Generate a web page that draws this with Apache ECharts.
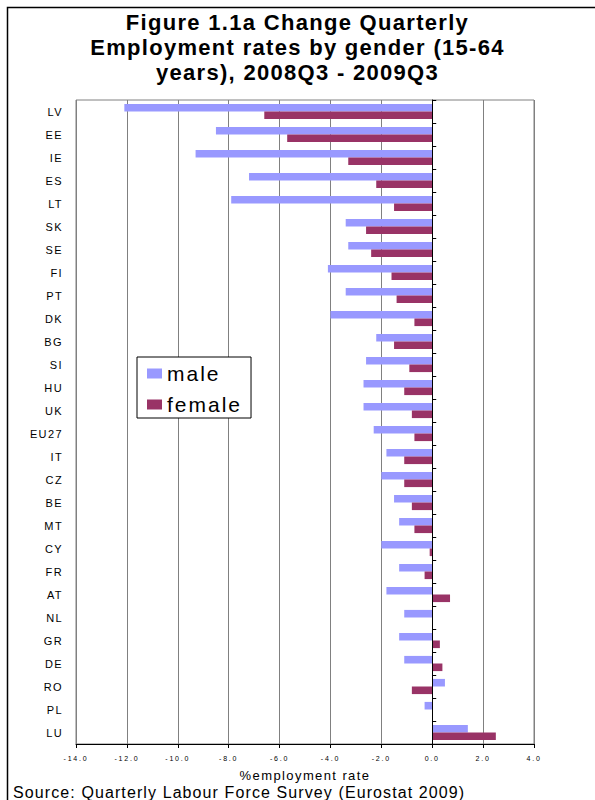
<!DOCTYPE html>
<html>
<head>
<meta charset="utf-8">
<script src="https://cdn.jsdelivr.net/npm/echarts@6/dist/echarts.min.js"></script>
<style>
html,body{margin:0;padding:0;background:#fff;}
#chart{width:595px;height:800px;}
</style>
</head>
<body>
<div id="chart"></div>
<script>
const categories = ["LV","EE","IE","ES","LT","SK","SE","FI","PT","DK","BG","SI","HU","UK","EU27","IT","CZ","BE","MT","CY","FR","AT","NL","GR","DE","RO","PL","LU"];
const male   = [-12.1,-8.5,-9.3,-7.2,-7.9,-3.4,-3.3,-4.1,-3.4,-4.0,-2.2,-2.6,-2.7,-2.7,-2.3,-1.8,-2.0,-1.5,-1.3,-2.0,-1.3,-1.8,-1.1,-1.3,-1.1,0.5,-0.3,1.4];
const female = [-6.6,-5.7,-3.3,-2.2,-1.5,-2.6,-2.4,-1.6,-1.4,-0.7,-1.5,-0.9,-1.1,-0.8,-0.7,-1.1,-1.1,-0.8,-0.7,-0.1,-0.3,0.7,0,0.3,0.4,-0.8,0,2.5];
const xMin = -14, xMax = 4, xStep = 2;
const titleText = "Figure 1.1a Change Quarterly\nEmployment rates by gender (15-64\nyears), 2008Q3 - 2009Q3";
const axisName = "%employment rate";
const sourceText = "Source: Quarterly Labour Force Survey (Eurostat 2009)";

const FONT = 'Liberation Sans, Arial, sans-serif';
// letter spacing per font size (px), applied to the rendered SVG text
const SPACING = {22:1.3, 21:2.0, 16:1.1, 13:1.4, 11:1.4, 7:1.8};

const chart = echarts.init(document.getElementById('chart'), null, {renderer:'svg'});
chart.setOption({
  backgroundColor:'#fff',
  animation:false,
  title:{
    text:titleText,
    left:'center',
    top:5,
    textStyle:{fontFamily:FONT,fontSize:22,fontWeight:'bold',color:'#000',lineHeight:25}
  },
  legend:{
    data:['male','female'],
    orient:'vertical',
    left:137, top:357,
    padding:[6,21,3,10],
    itemGap:10,
    itemWidth:15, itemHeight:10,
    icon:'rect',
    backgroundColor:'#fff',
    borderColor:'#000', borderWidth:1,
    textStyle:{fontFamily:FONT,fontSize:21,color:'#000'}
  },
  grid:{left:76,right:61,top:100,bottom:56,show:true,borderColor:'#808080',borderWidth:1,backgroundColor:'transparent'},
  xAxis:{
    type:'value', min:xMin, max:xMax, interval:xStep,
    name:axisName, nameLocation:'middle', nameGap:25,
    nameTextStyle:{fontFamily:FONT,fontSize:13,color:'#000'},
    axisLine:{show:true,onZero:false,lineStyle:{color:'#000',width:1}},
    axisTick:{show:true,length:4,lineStyle:{color:'#000'}},
    axisLabel:{fontFamily:FONT,fontSize:7,color:'#000',margin:11,formatter:v=>v.toFixed(1)},
    splitLine:{show:true,lineStyle:{color:'#808080',width:1}}
  },
  yAxis:[{
    type:'category', data:categories, inverse:true,
    axisLine:{show:false,onZero:false}, axisTick:{show:false},
    axisLabel:{fontFamily:FONT,fontSize:11,color:'#000',margin:13,align:'right'}
  },{
    type:'category', data:categories, inverse:true, position:'left', z:10,
    axisLine:{show:true,onZero:true,lineStyle:{color:'#000',width:1}},
    axisTick:{show:true,inside:true,length:4,lineStyle:{color:'#000',width:1}},
    axisLabel:{show:false}
  }],
  series:[
    {name:'male',type:'bar',data:male,yAxisIndex:0,barGap:'0%',barCategoryGap:'34%',itemStyle:{color:'#9999FF'}},
    {name:'female',type:'bar',data:female,yAxisIndex:0,barGap:'0%',barCategoryGap:'34%',itemStyle:{color:'#993366'}}
  ],
  graphic:[
    {type:'rect',shape:{x:7.5,y:7.5,width:700,height:900},style:{fill:'none',stroke:'#000',lineWidth:1.5},silent:true},
    {type:'text',left:13,top:784,style:{text:sourceText,fontFamily:FONT,fontSize:16,fill:'#000'}}
  ]
});

function applySpacing(){
  document.querySelectorAll('#chart svg text').forEach(t=>{
    const fs = Math.round(parseFloat(getComputedStyle(t).fontSize));
    if (SPACING[fs] != null) t.style.letterSpacing = SPACING[fs] + 'px';
  });
}
applySpacing();
chart.on('finished', applySpacing);
</script>
</body>
</html>
